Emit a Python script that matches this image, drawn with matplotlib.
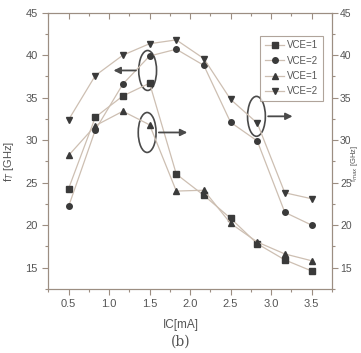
import matplotlib.pyplot as plt
from matplotlib.patches import Ellipse
from matplotlib.ticker import MultipleLocator

# collector current [mA]
ic = [0.5, 0.83, 1.17, 1.5, 1.83, 2.17, 2.5, 2.83, 3.17, 3.5]

# fT [GHz]
ft_vce1 = [24.3, 32.7, 35.2, 36.7, 26.0, 23.5, 20.8, 17.8, 15.9, 14.6]
ft_vce2 = [22.2, 31.2, 36.6, 39.9, 40.7, 38.8, 32.1, 29.9, 21.5, 20.0]
# fmax [GHz]
fmax_vce1 = [28.2, 31.7, 33.4, 31.8, 24.0, 24.1, 20.2, 18.0, 16.6, 15.8]
fmax_vce2 = [32.4, 37.6, 40.0, 41.35, 41.8, 39.6, 34.8, 32.0, 23.8, 23.1]

series = [
    (ft_vce1, 's', 'VCE=1'),
    (ft_vce2, 'o', 'VCE=2'),
    (fmax_vce1, '^', 'VCE=1'),
    (fmax_vce2, 'v', 'VCE=2'),
]

line_c = '#cdbfb2'
mark_c = '#3a3a3a'
axis_c = '#9c8e82'
text_c = '#555555'

plt.rcParams['font.family'] = 'Liberation Sans'

fig = plt.figure(figsize=(3.61, 3.53), dpi=100)
ax = fig.add_axes([0.134, 0.182, 0.785, 0.782])

for y, m, lab in series:
    ax.plot(ic, y, color=line_c, lw=0.9, marker=m, ms=4,
            mfc=mark_c, mec=mark_c, label=lab)

ax.set_xlim(0.25, 3.75)
ax.set_ylim(12.5, 45)
ax.xaxis.set_major_locator(MultipleLocator(0.5))
ax.xaxis.set_minor_locator(MultipleLocator(0.25))
ax.yaxis.set_major_locator(MultipleLocator(5))
ax.yaxis.set_minor_locator(MultipleLocator(2.5))
ax.tick_params(which='both', direction='out', colors=axis_c, labelcolor=text_c,
               labelsize=8, width=0.8)
ax.tick_params(which='major', length=4)
ax.tick_params(which='minor', length=2.5)
ax.tick_params(axis='x', which='both', top=True)
for s in ax.spines.values():
    s.set_color(axis_c)

# right axis for fmax, same scale
ax2 = ax.twinx()
ax2.set_ylim(12.5, 45)
ax2.yaxis.set_major_locator(MultipleLocator(5))
ax2.yaxis.set_minor_locator(MultipleLocator(2.5))
ax2.tick_params(which='both', direction='out', colors=axis_c, labelcolor=text_c,
                labelsize=7.5, width=0.8, pad=2)
ax2.tick_params(which='major', length=4)
ax2.tick_params(which='minor', length=2.5)
for s in ax2.spines.values():
    s.set_color(axis_c)
# top ticks point inward
for t in ax.xaxis.get_major_ticks() + ax.xaxis.get_minor_ticks():
    t.tick2line.set_marker(3)

ax.set_ylabel('f$_T$ [GHz]', color=text_c, fontsize=8)
ax.yaxis.set_label_coords(-0.115, 0.46)
fig.text(0.983, 0.538, 'f$_{max}$ [GHz]', color=text_c, fontsize=5.5,
         rotation=90, ha='center', va='center')

fig.text(0.5, 0.079, 'IC[mA]', fontsize=8.5, color=text_c, ha='center', va='center')
fig.text(0.5, 0.031, '(b)', family='DejaVu Serif', fontsize=10, color=text_c,
         ha='center', va='center')

# ellipses marking curve groups, with arrows to their axes
ell_c = '#4a4a4a'
for cx, cy in [(1.476, 38.2), (1.47, 30.9), (2.82, 32.8)]:
    ax.add_patch(Ellipse((cx, cy), 0.22, 4.7, fill=False, ec=ell_c, lw=1.2))
arrow = dict(arrowstyle='-|>', color=ell_c, lw=1.3, mutation_scale=10)
ax.annotate('', xy=(1.02, 38.2), xytext=(1.366, 38.2), arrowprops=arrow)
ax.annotate('', xy=(2.0, 30.9), xytext=(1.58, 30.9), arrowprops=arrow)
ax.annotate('', xy=(3.3, 32.8), xytext=(2.93, 32.8), arrowprops=arrow)

leg = ax.legend(loc='upper left', bbox_to_anchor=(0.73, 0.935), fontsize=7,
                frameon=True, fancybox=False, handlelength=2.0,
                borderpad=0.5, labelspacing=0.55, handletextpad=0.3)
leg.get_frame().set_edgecolor(axis_c)
leg.get_frame().set_linewidth(0.8)
for t in leg.get_texts():
    t.set_color(text_c)

fig.savefig('out.png', dpi=100)
